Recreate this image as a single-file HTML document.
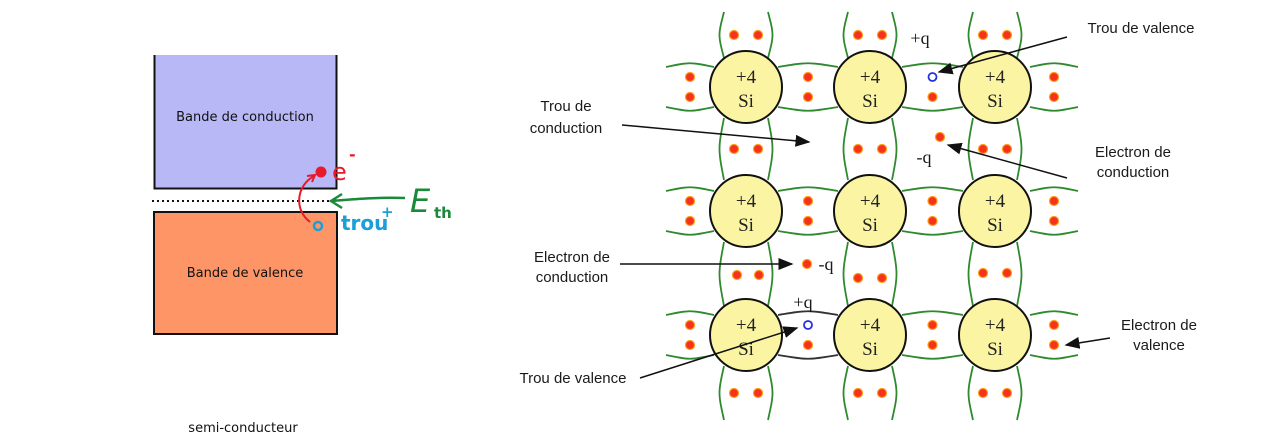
<!DOCTYPE html>
<html><head><meta charset="utf-8">
<style>
html,body{margin:0;padding:0;background:#fff;width:1264px;height:445px;overflow:hidden}
svg{display:block}
</style></head>
<body>
<svg id="s" width="1264" height="445" viewBox="0 0 1264 445" xmlns="http://www.w3.org/2000/svg">
<defs>
<marker id="ah" markerWidth="10" markerHeight="8" refX="9" refY="4" orient="auto"><path d="M0,0 L10,4 L0,8 z" fill="#111"/></marker>
</defs>
<g font-family="'DejaVu Sans','Liberation Sans',sans-serif">
<rect x="154" y="55" width="183" height="133" fill="#b8b8f6"/>
<path d="M154.5,55 V188.5 H336.5 V55" fill="none" stroke="#111" stroke-width="2"/>
<text x="245" y="121" font-size="13" text-anchor="middle" fill="#111">Bande de conduction</text>
<line x1="152" y1="201" x2="332" y2="201" stroke="#111" stroke-width="2" stroke-dasharray="2,3"/>
<rect x="154" y="212" width="183" height="122" fill="#fd9567" stroke="#111" stroke-width="2"/>
<text x="245" y="277" font-size="13" text-anchor="middle" fill="#111">Bande de valence</text>
<text x="243" y="432" font-size="13" text-anchor="middle" fill="#111">semi-conducteur</text>
<circle cx="321" cy="172" r="5.5" fill="#e8192a"/>
<text x="332" y="180" font-size="24" fill="#e8192a">e</text>
<text x="349" y="160" font-size="16" fill="#e8192a" font-weight="bold">-</text>
<path d="M310,222 C294,210 296,186 314,176" fill="none" stroke="#e8192a" stroke-width="2"/>
<path d="M307,176 L315,175 L312,182" fill="none" stroke="#e8192a" stroke-width="2"/>
<circle cx="318" cy="226" r="4" fill="none" stroke="#1a9fd8" stroke-width="2.5"/>
<text x="341" y="230" font-size="20" fill="#1a9fd8" font-weight="bold">trou</text>
<text x="381" y="217" font-size="15" fill="#1a9fd8" font-weight="bold">+</text>
<path d="M405,198 C380,197 355,199 332,201 M342,194 L331,201 L342,208" fill="none" stroke="#1a8a3a" stroke-width="2.5"/>
<text x="410" y="212" font-size="32" fill="#1a8a3a" font-style="italic">E</text>
<text x="434" y="218" font-size="15" fill="#1a8a3a" font-weight="bold">th</text>
</g>
<g id="lat"></g>
</svg>
<script>
var NS="http://www.w3.org/2000/svg";
var lat=document.getElementById('lat');
function el(tag,attrs,parent){var e=document.createElementNS(NS,tag);for(var k in attrs)e.setAttribute(k,attrs[k]);(parent||lat).appendChild(e);return e;}
var colX=[746,870,995];
var rowY=[87,211,335];
var R=36;
var G="#2f8a2f";
function dot(x,y){var d=el('circle',{cx:x,cy:y,r:4.5,fill:'#f5331c',stroke:'#ff9a1a','stroke-width':1.2});

}
function vbond(x,y1,y2,color,dots){
 var g=el('g',{});
 
 
 el('path',{d:'M'+(x-22)+','+y1+' C'+(x-28)+','+((y1+y2)/2)+' '+(x-28)+','+((y1+y2)/2)+' '+(x-22)+','+y2,fill:'none',stroke:color,'stroke-width':1.8},g);
 el('path',{d:'M'+(x+22)+','+y1+' C'+(x+28)+','+((y1+y2)/2)+' '+(x+28)+','+((y1+y2)/2)+' '+(x+22)+','+y2,fill:'none',stroke:color,'stroke-width':1.8},g);
 if(dots){dot(x-12,(y1+y2)/2);dot(x+12,(y1+y2)/2);}
}
function hbond(x1,x2,y,color,top,bot){
 var g=el('g',{});
 
 
 el('path',{d:'M'+x1+','+(y-20)+' C'+((x1+x2)/2)+','+(y-25)+' '+((x1+x2)/2)+','+(y-25)+' '+x2+','+(y-20),fill:'none',stroke:color,'stroke-width':1.8},g);
 el('path',{d:'M'+x1+','+(y+20)+' C'+((x1+x2)/2)+','+(y+25)+' '+((x1+x2)/2)+','+(y+25)+' '+x2+','+(y+20),fill:'none',stroke:color,'stroke-width':1.8},g);
 var mx=(x1+x2)/2;
 if(top==='e')dot(mx,y-10);
 if(top==='h'){var h=el('circle',{cx:mx,cy:y-10,r:4,fill:'#fff',stroke:'#2233dd','stroke-width':1.8});
  
  }
 if(bot==='e')dot(mx,y+10);
}
colX.forEach(function(x,c){
 vbond(x,12,58,G,true);
 vbond(x,118,180,G,true);
 vbond(x,242,306,G,false);
 vbond(x,366,420,G,true);
});
dot(colX[0]-9,275);dot(colX[0]+13,275);
dot(colX[1]-12,278);dot(colX[1]+12,278);
dot(colX[2]-12,273);dot(colX[2]+12,273);
rowY.forEach(function(y,r){
 hbond(666,714,y,G,'e','e');
 hbond(1030,1078,y,G,'e','e');
 hbond(colX[0]+R-4,colX[1]-R+4,y,r===2?'#333':G,r===2?'h':'e','e');
 hbond(colX[1]+R-4,colX[2]-R+4,y,G,r===0?'h':'e','e');
});
rowY.forEach(function(y){colX.forEach(function(x){
 var g=el('g',{});
 
 
 el('circle',{cx:x,cy:y,r:R,fill:'#fbf5a3',stroke:'#111','stroke-width':2},g);
 var t1=el('text',{x:x,y:y-4,'font-family':"'Liberation Serif',serif",'font-size':19,'text-anchor':'middle',fill:'#222'},g);t1.textContent='+4';
 var t2=el('text',{x:x,y:y+20,'font-family':"'Liberation Serif',serif",'font-size':19,'text-anchor':'middle',fill:'#222'},g);t2.textContent='Si';
});});
dot(940,137);dot(807,264);
function txt(x,y,s,name,size,fam,anchor){var t=el('text',{x:x,y:y,'font-family':fam||"'Liberation Sans',sans-serif",'font-size':size||15,'text-anchor':anchor||'middle',fill:'#1a1a1a'});t.textContent=s;

return t;}
var serif="'Liberation Serif',serif";
txt(920,44,'+q','hole-charge-top',18,serif);
txt(924,163,'-q','electron-charge-top',18,serif);
txt(826,270,'-q','electron-charge-mid',18,serif);
txt(803,308,'+q','hole-charge-bottom',18,serif);
txt(1141,33,'Trou de valence','label-trou-valence-top');
txt(566,111,'Trou de','label-trou-conduction-1');
txt(566,133,'conduction','label-trou-conduction-2');
txt(1133,157,'Electron de','label-electron-conduction-1');
txt(1133,177,'conduction','label-electron-conduction-2');
txt(572,262,'Electron de','label-electron-conduction-left-1');
txt(572,282,'conduction','label-electron-conduction-left-2');
txt(573,383,'Trou de valence','label-trou-valence-bottom');
txt(1159,330,'Electron de','label-electron-valence-1');
txt(1159,350,'valence','label-electron-valence-2');
function arrow(x1,y1,x2,y2,name){var a=el('line',{x1:x1,y1:y1,x2:x2,y2:y2,stroke:'#111','stroke-width':1.5,'marker-end':'url(#ah)'});

}
arrow(1067,37,939,72,'arrow-trou-valence-top');
arrow(622,125,809,142,'arrow-trou-conduction');
arrow(1067,178,948,145,'arrow-electron-conduction');
arrow(620,264,792,264,'arrow-electron-conduction-left');
arrow(640,378,797,328,'arrow-trou-valence-bottom');
arrow(1110,338,1066,345,'arrow-electron-valence');
</script>
</body></html>
